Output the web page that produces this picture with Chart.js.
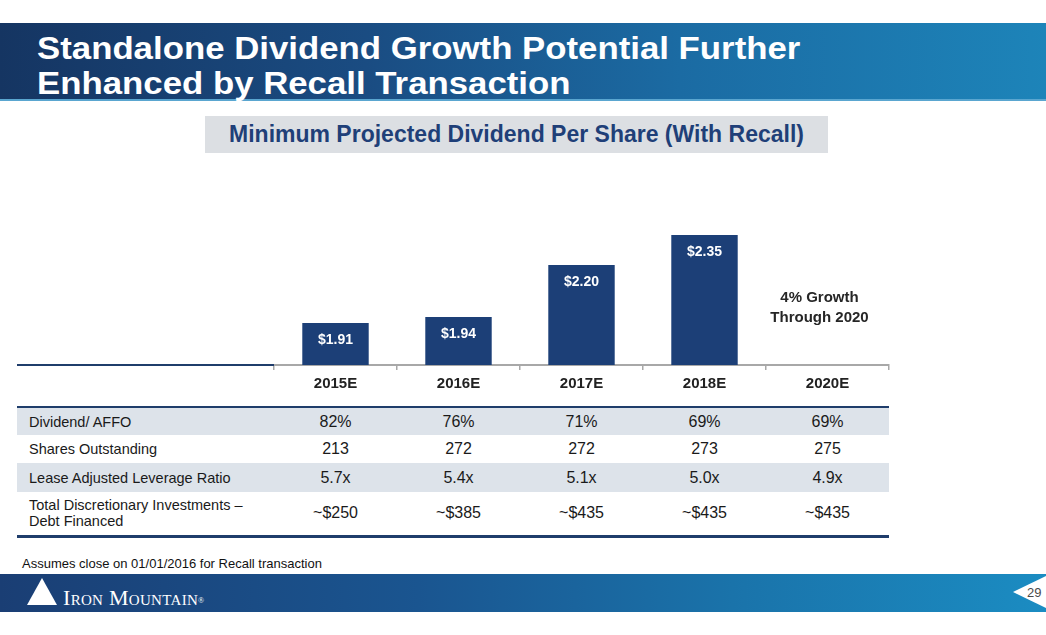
<!DOCTYPE html>
<html>
<head>
<meta charset="utf-8">
<script src="https://cdn.jsdelivr.net/npm/chart.js@4"></script>
<style>
  html, body { margin:0; padding:0; background:#fff; }
  body { width:1046px; height:635px; position:relative; overflow:hidden; font-family:"Liberation Sans", Arial, sans-serif; }
  .band { position:absolute; left:0; width:1046px; }
  #header { top:23px; height:78px; background:linear-gradient(90deg,#153562 0%,#1a4c82 35%,#1b6ba3 65%,#1d84b9 100%); border-bottom:2px solid #5aa6d0; box-sizing:border-box; }
  #title { position:absolute; left:37px; top:31px; color:#fff; font-weight:bold; font-size:32px; line-height:35px; white-space:nowrap; transform-origin:0 0; transform:scaleX(1.087); }
  #subbox { position:absolute; left:205px; top:116px; width:623px; height:37px; background:#dcdfe3; color:#1f3f78; font-weight:bold; font-size:23px; line-height:37px; text-align:center; white-space:nowrap; }
  #chartWrap { position:absolute; left:272px; top:195px; width:619px; height:210px; }
  #leftLine { position:absolute; left:17px; top:364px; width:257px; height:2px; background:#1f3d6b; }
  #tbl { position:absolute; left:17px; top:406px; width:872px; border-collapse:collapse; border-top:2px solid #1f3d6b; border-bottom:3px solid #1f3d6b; }
  #tbl td { padding:0; color:#1a1a1a; }
  #tbl td.lab { padding-left:12px; font-size:14.5px; text-align:left; width:245px; }
  #tbl td.val { font-size:16px; text-align:center; width:123px; }
  #tbl tr.sh td { background:#dde3ea; }
  #foot { position:absolute; left:22px; top:556px; font-size:13px; color:#111; white-space:nowrap; }
  #footer { top:574px; height:38px; background:linear-gradient(90deg,#1a3e74 0%,#1a5590 40%,#1a73aa 70%,#1b8cc2 100%); }
  #tri { position:absolute; left:27px; top:578px; width:0; height:0; border-left:15px solid transparent; border-right:15px solid transparent; border-bottom:27px solid #fff; }
  #logo { position:absolute; left:63px; top:587px; color:#fff; font-family:"Liberation Serif","DejaVu Serif",serif; font-size:22px; line-height:22px; font-variant:small-caps; letter-spacing:0.3px; white-space:nowrap; }
  #logo sup { font-size:8px; vertical-align:top; position:relative; top:3px; }
  #notch { position:absolute; left:1013px; top:576px; width:33px; height:32px; background:#fff; clip-path:polygon(0 50%,100% 0,100% 100%); }
  #page { position:absolute; left:1027px; top:585px; font-size:13px; color:#4a4a4a; }
</style>
</head>
<body>
<div id="header" class="band"></div>
<div id="title">Standalone Dividend Growth Potential Further<br>Enhanced by Recall Transaction</div>
<div id="subbox">Minimum Projected Dividend Per Share (With Recall)</div>
<div id="chartWrap"><canvas id="c"></canvas></div>
<div id="leftLine"></div>
<table id="tbl"><tbody id="tb"></tbody></table>
<div id="foot">Assumes close on 01/01/2016 for Recall transaction</div>
<div id="footer" class="band"></div>
<div id="tri"></div>
<div id="logo">Iron Mountain<sup>®</sup></div>
<div id="notch"></div>
<div id="page">29</div>
<script>
const categories = ['2015E','2016E','2017E','2018E','2020E'];
const dividendPerShare = [1.91, 1.94, 2.20, 2.35, null];
const dividendLabels = ['$1.91','$1.94','$2.20','$2.35',''];
const growthNote = ['4% Growth','Through 2020'];

const rowLabels = ['Dividend/ AFFO','Shares Outstanding','Lease Adjusted Leverage Ratio','Total Discretionary Investments –<br>Debt Financed'];
const dividendAffo = ['82%','76%','71%','69%','69%'];
const sharesOutstanding = ['213','272','272','273','275'];
const leverageRatio = ['5.7x','5.4x','5.1x','5.0x','4.9x'];
const discretionaryInvestments = ['~$250','~$385','~$435','~$435','~$435'];

const tableRows = [dividendAffo, sharesOutstanding, leverageRatio, discretionaryInvestments];
const rowHeights = [28, 28, 29, 44];
const tb = document.getElementById('tb');
tableRows.forEach((vals, i) => {
  const tr = document.createElement('tr');
  if (i % 2 === 0) tr.className = 'sh';
  tr.style.height = rowHeights[i] + 'px';
  let html = '<td class="lab">' + rowLabels[i] + '</td>';
  vals.forEach(v => { html += '<td class="val">' + v + '</td>'; });
  tr.innerHTML = html;
  tb.appendChild(tr);
});

const labelPlugin = {
  id: 'labels',
  afterDatasetsDraw(chart) {
    const ctx = chart.ctx;
    const meta = chart.getDatasetMeta(0);
    ctx.save();
    ctx.textAlign = 'center';
    ctx.textBaseline = 'middle';
    ctx.font = 'bold 14px "Liberation Sans", Arial, sans-serif';
    ctx.fillStyle = '#ffffff';
    meta.data.forEach((bar, i) => {
      if (dividendPerShare[i] == null) return;
      ctx.fillText(dividendLabels[i], bar.x, bar.y + 17);
    });
    const xs = chart.scales.x;
    const gx = xs.getPixelForValue(4) - 8;
    ctx.fillStyle = '#262626';
    ctx.font = 'bold 15px "Liberation Sans", Arial, sans-serif';
    ctx.fillText(growthNote[0], gx, 298 - 195);
    ctx.fillText(growthNote[1], gx, 318 - 195);
    ctx.restore();
  }
};

new Chart(document.getElementById('c'), {
  type: 'bar',
  data: {
    labels: categories,
    datasets: [{
      data: dividendPerShare,
      backgroundColor: '#1c3f77',
      borderWidth: 0,
      barPercentage: 0.54,
      categoryPercentage: 1.0
    }]
  },
  options: {
    responsive: true,
    maintainAspectRatio: false,
    animation: false,
    layout: { padding: { left: 2, right: 2, top: 10, bottom: 0 } },
    plugins: { legend: { display: false }, tooltip: { enabled: false } },
    scales: {
      y: { display: false, min: 1.7, max: 2.5 },
      x: {
        afterFit(scale) { scale.height = 40; },
        grid: { display: true, drawOnChartArea: false, drawTicks: true, tickLength: 5, color: '#a8a8a8', lineWidth: 1.5, offset: true },
        border: { display: true, color: '#a8a8a8', width: 2 },
        ticks: { color: '#222222', padding: 5, font: { family: '"Liberation Sans", Arial, sans-serif', size: 15, weight: 'bold' } }
      }
    }
  },
  plugins: [labelPlugin]
});
</script>
</body>
</html>
